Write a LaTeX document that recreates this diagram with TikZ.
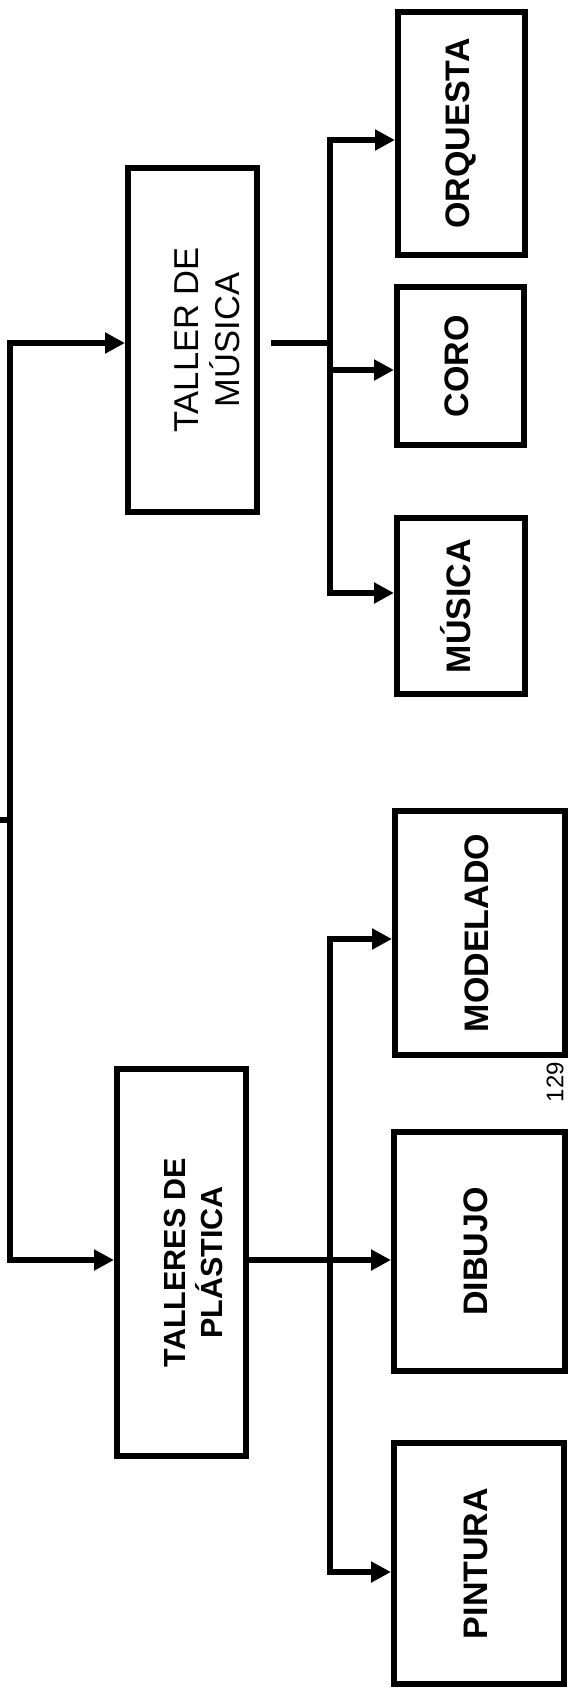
\documentclass[tikz,border=0pt]{standalone}
\usepackage{fontspec}
\setmainfont{Liberation Sans}
\usepackage{graphicx}
\usetikzlibrary{arrows.meta}

% rotated box text, optional extra room on the left side of the page
\newcommand{\sidetext}[2][0pt]{\rotatebox{90}{\raisebox{0pt}[\dimexpr\height+#1\relax]{\begin{tabular}{@{}c@{}}#2\end{tabular}}}}

\begin{document}
\begin{tikzpicture}[x=1pt,y=1pt,
  >={Triangle[length=20pt,width=20pt]},
  box/.style={draw,line width=6pt,inner sep=0pt,
    font=\fontsize{34}{40}\selectfont\bfseries},
  link/.style={line width=5.5pt},
  arr/.style={link,->}
]
\useasboundingbox (0,0) rectangle (569,-1689);

% music branch
\node[box,font=\fontsize{34.5}{40}\selectfont,minimum width=129pt,minimum height=344pt] (tmus) at (192.5,-340)
 {\sidetext[37pt]{TALLER DE\\MÚSICA\hspace{32pt}}};
\node[box,minimum width=127pt,minimum height=243pt] (orq) at (461.5,-133.5) {\sidetext{ORQUESTA}};
\node[box,minimum width=127pt,minimum height=158pt] (coro) at (460.5,-366) {\sidetext{CORO}};
\node[box,minimum width=128pt,minimum height=176pt] (mus) at (461,-606) {\sidetext{MÚSICA}};

% plastic arts branch
\node[box,font=\fontsize{30.5}{35}\selectfont\bfseries,minimum width=129pt,minimum height=387pt] (tplas) at (181.5,-1262.5)
 {\sidetext[31pt]{TALLERES DE\\PLÁSTICA}};
\node[box,minimum width=170pt,minimum height=244pt] (modelado) at (480,-933) {\sidetext{MODELADO}};
\node[box,minimum width=171pt,minimum height=239pt] (dibujo) at (479.5,-1251.5) {\sidetext{DIBUJO}};
\node[box,minimum width=170pt,minimum height=241pt] (pintura) at (479,-1563.5) {\sidetext{PINTURA}};

\node[font=\fontsize{24}{28}\selectfont,inner sep=0pt] (pagenum) at (555,-1082) {\rotatebox{90}{129}};

% root connector
\coordinate (rIn) at (0,-820);
\coordinate (rMid) at (10,-820);
\coordinate (rTop) at (10,-343);
\coordinate (rBot) at (10,-1260);
\draw[link] (rIn) -- (rMid);
\draw[arr] (rMid) |- (tmus.west |- rTop);
\draw[arr] (rMid) |- (tplas.west |- rBot);

% music trunk
\coordinate (mIn) at (330,-343);
\coordinate (mOrq) at (330,-140);
\coordinate (mCoro) at (330,-370);
\coordinate (mMus) at (330,-593);
\draw[link,shorten <=11pt] (tmus.east |- mIn) -- (mIn);
\draw[arr] (mMus) -- (mOrq) -- (orq.west |- mOrq);
\draw[arr] (mOrq) -- (mMus) -- (mus.west |- mMus);
\draw[arr] (mCoro) -- (coro.west |- mCoro);

% plastic trunk
\coordinate (pMod) at (330,-939);
\coordinate (pPin) at (330,-1572);
\draw[arr] (pPin) -- (pMod) -- (modelado.west |- pMod);
\draw[arr] (pMod) -- (pPin) -- (pintura.west |- pPin);
\draw[arr] (tplas.east |- rBot) -- (dibujo.west |- rBot);
\end{tikzpicture}
\end{document}
